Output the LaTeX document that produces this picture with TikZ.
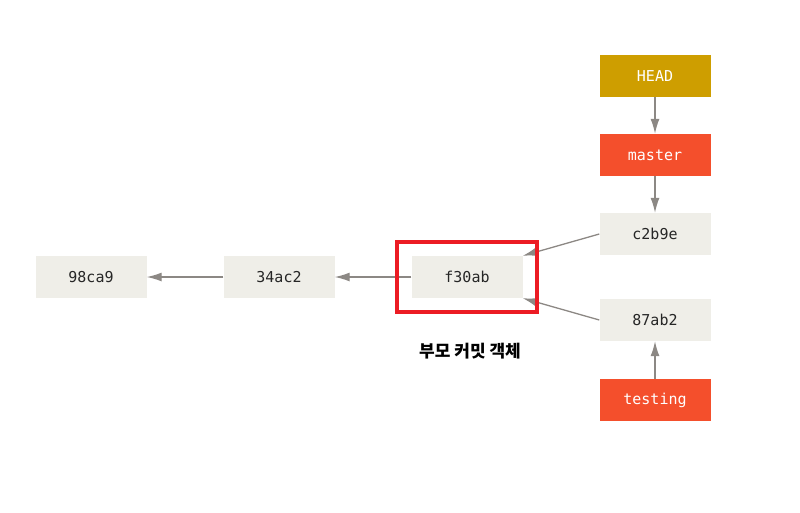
\documentclass[tikz,border=0pt]{standalone}
\usepackage{fontspec}
\usetikzlibrary{arrows.meta}
\setmonofont{DejaVu Sans Mono}
\newfontfamily\cjk{Noto Sans CJK KR}
\definecolor{commitfill}{HTML}{EFEEE8}
\definecolor{headfill}{HTML}{CE9E00}
\definecolor{branchfill}{HTML}{F44F2C}
\definecolor{arrowgray}{HTML}{8C8884}
\definecolor{markred}{HTML}{EC1C24}

\begin{document}
\begin{tikzpicture}[x=1pt, y=-1pt, >={Latex[length=15pt, width=9pt]},
  box/.style={minimum width=111pt, minimum height=42pt, inner sep=0pt,
    font=\ttfamily\fontsize{15}{16}\selectfont},
  commit/.style={box, fill=commitfill, text=black!85},
  refbox/.style={box, fill=branchfill, text=white},
  link/.style={->, draw=arrowgray, line width=1.3pt}]
\useasboundingbox (0,0) rectangle (800,512);

% Commits along the history line
\foreach \name/\x/\y in {98ca9/91/277, 34ac2/279/277, f30ab/467/277,
    c2b9e/655/234, 87ab2/655/320} {
  \node [commit] (c\name) at (\x,\y) {\name};
}

% Branch pointers and HEAD
\node [refbox, fill=headfill] (head) at (655,76) {HEAD};
\node [refbox] (master) at (655,155) {master};
\node [refbox] (testing) at (655,400) {testing};

% Parent links
\draw [link] (head) -- (master);
\draw [link] (master) -- (cc2b9e);
\draw [link] (testing) -- (c87ab2);
\draw [link] (cc2b9e.west) -- (cf30ab.north east);
\draw [link] (c87ab2.west) -- (cf30ab.south east);
\draw [link] (cf30ab) -- (c34ac2);
\draw [link] (c34ac2) -- (c98ca9);

% Highlight of the parent commit
\node [draw=markred, line width=4pt, minimum width=140pt, minimum height=70pt]
  (mark) at (cf30ab) {};
\node [font=\cjk\bfseries\fontsize{17}{19}\selectfont] (parentlabel)
  at (470,351) {부모 커밋 객체};
\end{tikzpicture}
\end{document}
